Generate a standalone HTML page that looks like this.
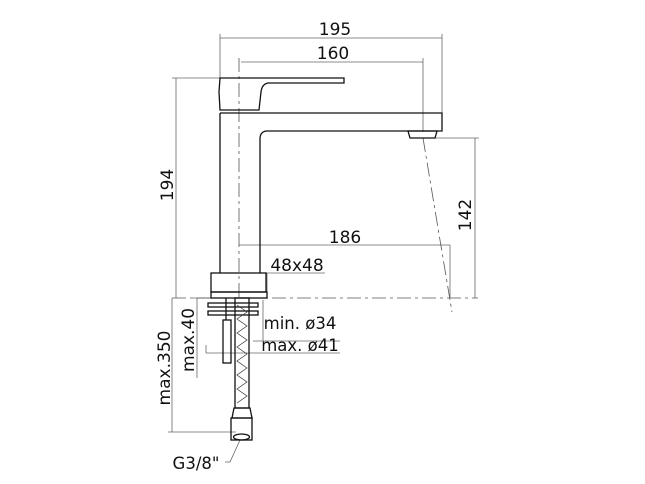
<!DOCTYPE html>
<html><head><style>
html,body{margin:0;padding:0;background:#fff;}
svg{display:block}
text{font-family:"DejaVu Sans","Liberation Sans",sans-serif;fill:#111;}
</style></head><body>
<svg width="645" height="484" viewBox="0 0 645 484" xmlns="http://www.w3.org/2000/svg">
<g stroke="#666" stroke-width="0.8" fill="none">
 <line x1="220" y1="38" x2="442" y2="38"/>
 <line x1="220" y1="34" x2="220" y2="78"/>
 <line x1="442" y1="34" x2="442" y2="113"/>
 <line x1="241" y1="62" x2="423" y2="62"/>
 <line x1="423" y1="58" x2="423" y2="132"/>
 <line x1="176" y1="78" x2="176" y2="298"/>
 <line x1="172" y1="78" x2="222" y2="78"/>
 <line x1="475" y1="138" x2="475" y2="298"/>
 <line x1="425" y1="138" x2="479" y2="138"/>
 <line x1="239" y1="245" x2="450" y2="245"/>
 <line x1="450" y1="245" x2="450" y2="298"/>
 <line x1="211" y1="273" x2="325" y2="273"/>
 <line x1="267" y1="273" x2="267" y2="292"/>
 <line x1="172" y1="298" x2="172" y2="432"/>
 <line x1="168" y1="432" x2="236" y2="432"/>
 <line x1="197" y1="298" x2="197" y2="378"/>
 <line x1="193" y1="298" x2="212" y2="298"/>
 <line x1="263" y1="300" x2="263" y2="341"/>
 <line x1="253" y1="341" x2="340" y2="341"/>
 <line x1="206" y1="345" x2="206" y2="353"/>
 <line x1="206" y1="353" x2="340" y2="353"/>
 <polyline points="225,462 230,462 240,440"/>
</g>
<g stroke="#555" stroke-width="0.8" fill="none" stroke-dasharray="14,4,3,4">
 <line x1="239" y1="58" x2="239" y2="300"/>
 <line x1="172" y1="298" x2="478" y2="298"/>
 <line x1="423" y1="138" x2="452" y2="312"/>
</g>
<g stroke="#111" stroke-width="1.3" fill="none">
 <path d="M220,78 L344,78 L344,83 L268,83 Q262,84 261,92 L259,110 L220,110 L219,92 Z"/>
 <path d="M220,113 L442,113 L442,131 L266,131 Q260,132 260,139 L260,273"/>
 <line x1="220" y1="113" x2="220" y2="273"/>
 <path d="M408,131 L437,131 L435,138 L410,138 Z"/>
 <rect x="211" y="273" width="55" height="19"/>
 <rect x="211" y="292" width="56" height="6"/>
 <rect x="208" y="303" width="50" height="4"/>
 <rect x="208" y="311" width="50" height="4"/>
 <rect x="223" y="320" width="8" height="43"/>
 <line x1="226" y1="298" x2="226" y2="320"/>
 <rect x="235" y="298" width="14" height="110"/>
 <path d="M234,408 L250,408 L252,418 L232,418 Z"/>
 <rect x="231" y="418" width="21" height="22"/>
 <ellipse cx="241.5" cy="437" rx="8" ry="3"/>
</g>
<g stroke="#333" stroke-width="0.7" fill="none">
 <polyline points="237,305 247,312 237,319 247,326 237,333 247,340 237,347 247,354 237,361 247,368 237,375 247,382 237,389 247,396 237,403"/>
</g>
<text x="335" y="35" font-size="17" text-anchor="middle">195</text>
<text x="333" y="59" font-size="17" text-anchor="middle">160</text>
<text x="345" y="243" font-size="17" text-anchor="middle">186</text>
<text x="297" y="271" font-size="17" text-anchor="middle">48x48</text>
<text x="300" y="329" font-size="16.5" text-anchor="middle">min. ø34</text>
<text x="300" y="351" font-size="16.5" text-anchor="middle">max. ø41</text>
<text x="196" y="469" font-size="16.5" text-anchor="middle">G3/8"</text>
<text transform="translate(173,185) rotate(-90)" font-size="17" text-anchor="middle">194</text>
<text transform="translate(471,215) rotate(-90)" font-size="17" text-anchor="middle">142</text>
<text transform="translate(170,368) rotate(-90)" font-size="17" text-anchor="middle">max.350</text>
<text transform="translate(194,340) rotate(-90)" font-size="17" text-anchor="middle">max.40</text>
</svg>
</body></html>
